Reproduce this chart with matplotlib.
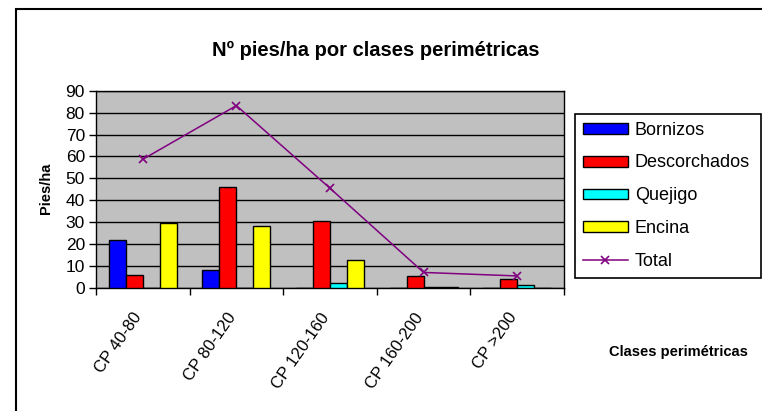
#!/usr/bin/env python3
"""Nº pies/ha por clases perimétricas — barras agrupadas + línea total."""

import matplotlib
matplotlib.use('Agg')
import matplotlib.pyplot as plt
import matplotlib.transforms as mtransforms
import numpy as np
from matplotlib.lines import Line2D
from matplotlib.patches import Patch, Rectangle

plt.rcParams['font.family'] = ['Liberation Sans', 'DejaVu Sans']

clases = ['CP 40-80', 'CP 80-120', 'CP 120-160', 'CP 160-200', 'CP >200']
bornizos = [22, 8, 0, 0, 0]
descorchados = [6, 46, 30.5, 5.5, 3.9]
quejigo = [0, 0, 2.4, 0.4, 1.5]
encina = [29.6, 28.2, 12.6, 0.4, 0]
total = [58.7, 83.2, 45.5, 7.1, 5.5]

series = [
    ('Bornizos', bornizos, '#0000FF'),
    ('Descorchados', descorchados, '#FF0000'),
    ('Quejigo', quejigo, '#00FFFF'),
    ('Encina', encina, '#FFFF00'),
]


def main():
    W, H = 762, 411
    fig = plt.figure(figsize=(W / 100, H / 100), dpi=100)
    ax = fig.add_axes([96 / W, 1 - 288 / H, (564 - 96) / W, (288 - 90.7) / H])
    ax.set_facecolor('#C0C0C0')

    x = np.arange(len(clases))
    w = 1 / 5.5
    for i, (nombre, vals, col) in enumerate(series):
        ax.bar(x + (i - 1.5) * w, vals, width=w, color=col,
               edgecolor='black', linewidth=1.0, zorder=3)
    ax.plot(x, total, color='#800080', linewidth=1.1, marker='x',
            markersize=6, markeredgewidth=1.2, zorder=4)

    ax.set_xlim(-0.5, len(clases) - 0.5)
    ax.set_ylim(0, 90)
    ax.set_yticks(np.arange(0, 91, 10))
    ax.yaxis.grid(True, color='black', linewidth=1.0, zorder=1)
    ax.set_axisbelow(True)
    ax.tick_params(axis='y', direction='out', length=5, width=1,
                   labelsize=12.5, pad=3)

    ax.set_xticks(x)
    ax.set_xticklabels(clases, rotation=55, ha='right', va='top',
                       rotation_mode='anchor', fontsize=12)
    ax.set_xticks(np.arange(-0.5, len(clases), 1), minor=True)
    ax.tick_params(axis='x', which='major', length=0, pad=16)
    ax.tick_params(axis='x', which='minor', direction='out', length=5, width=1)
    shift = mtransforms.ScaledTranslation(-10 / 100, 0, fig.dpi_scale_trans)
    for lab in ax.get_xticklabels():
        lab.set_transform(lab.get_transform() + shift)
    for s in ax.spines.values():
        s.set_linewidth(1.0)
        s.set_color('black')

    fig.text(0.4934, 1 - 50 / H, 'Nº pies/ha por clases perimétricas',
             ha='center', va='center', fontsize=14.5, fontweight='bold')
    fig.text(46 / W, 1 - 188 / H, 'Pies/ha', rotation=90, ha='center',
             va='center', fontsize=10.5, fontweight='bold')
    fig.text(678 / W, 1 - 352 / H, 'Clases perimétricas', ha='center',
             va='center', fontsize=10.5, fontweight='bold')

    handles = [Patch(facecolor=c, edgecolor='black', linewidth=1.0)
               for _, _, c in series]
    handles.append(Line2D([], [], color='#800080', linewidth=1.1, marker='x',
                          markersize=6, markeredgewidth=1.2))
    labels = [n for n, _, _ in series] + ['Total']
    leg = fig.legend(handles, labels, loc='upper left',
                     bbox_to_anchor=(575 / W, 1 - 278 / H, 186 / W, 164 / H),
                     mode='expand', borderaxespad=0,
                     fontsize=13, frameon=True, fancybox=False,
                     edgecolor='black', framealpha=1, borderpad=0.42,
                     labelspacing=0.88, handlelength=2.5, handleheight=0.55,
                     handletextpad=0.39)
    leg.get_frame().set_linewidth(1.2)

    # marco exterior del gráfico
    fig.patches.append(Rectangle((16 / W, -0.1), 1.2, 1.1 - 9 / H,
                                 transform=fig.transFigure, fill=False,
                                 edgecolor='black', linewidth=1.5))

    fig.savefig('out.png', dpi=100)


if __name__ == '__main__':
    main()
